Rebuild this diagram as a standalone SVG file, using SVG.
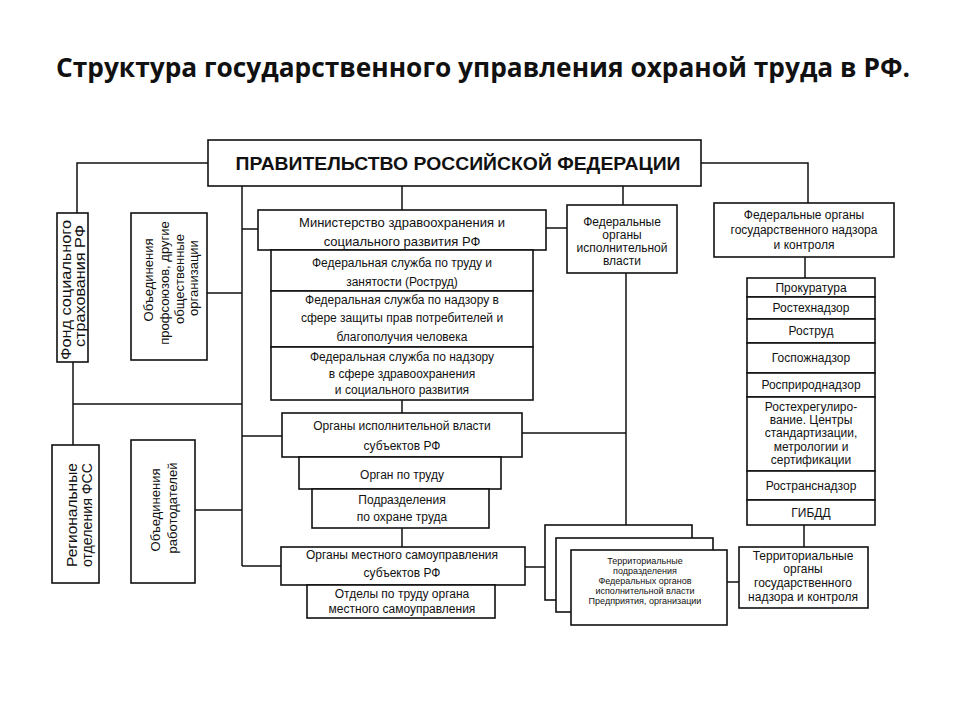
<svg xmlns="http://www.w3.org/2000/svg" width="960" height="720" viewBox="0 0 960 720">
<style>
.box{fill:#fff;stroke:#111;stroke-width:1.6}
.ln{fill:none;stroke:#111;stroke-width:1.5}
text{font-family:"Liberation Sans",Arial,sans-serif;fill:#111;text-anchor:middle;dominant-baseline:central}
.t13{font-size:13px}
.t12{font-size:12px}
.t10{font-size:9px}
.title{font-family:"Open Sans","Liberation Sans",sans-serif;font-weight:700;font-size:27px;dominant-baseline:alphabetic}
.gov{font-weight:700;font-size:18px}
.rot{font-size:14px}
</style>
<rect width="960" height="720" fill="#fff"/>
<text class="title" x="483" y="77" textLength="854" lengthAdjust="spacingAndGlyphs">Структура государственного управления охраной труда в РФ.</text>

<g id="connectors">
<polyline class="ln" points="208,163 77,163 77,213"/>
<line class="ln" x1="73" y1="362" x2="73" y2="445"/>
<line class="ln" x1="73" y1="404" x2="242" y2="404"/>
<line class="ln" x1="242" y1="186" x2="242" y2="566"/>
<line class="ln" x1="242" y1="229" x2="258" y2="229"/>
<line class="ln" x1="207" y1="293" x2="242" y2="293"/>
<line class="ln" x1="195" y1="510" x2="242" y2="510"/>
<line class="ln" x1="242" y1="436" x2="282" y2="436"/>
<line class="ln" x1="242" y1="566" x2="281" y2="566"/>
<line class="ln" x1="402" y1="186" x2="402" y2="210"/>
<line class="ln" x1="402" y1="400" x2="402" y2="413"/>
<line class="ln" x1="402" y1="528" x2="402" y2="547"/>
<line class="ln" x1="623" y1="186" x2="623" y2="205"/>
<line class="ln" x1="546" y1="228" x2="567" y2="228"/>
<line class="ln" x1="626" y1="273" x2="626" y2="525"/>
<line class="ln" x1="522" y1="433" x2="626" y2="433"/>
<line class="ln" x1="525" y1="567" x2="545" y2="567"/>
<line class="ln" x1="727" y1="582" x2="739" y2="582"/>
<line class="ln" x1="804" y1="525" x2="804" y2="547"/>
<polyline class="ln" points="701,163 808,163 808,203"/>
<line class="ln" x1="805" y1="257" x2="805" y2="278"/>
</g>

<g id="gov">
<rect class="box" x="208" y="140" width="493" height="46"/>
<text class="gov" x="458" y="164" textLength="445" lengthAdjust="spacingAndGlyphs">ПРАВИТЕЛЬСТВО РОССИЙСКОЙ ФЕДЕРАЦИИ</text>
</g>

<g id="fss">
<rect class="box" x="57" y="213" width="31" height="149"/>
<text class="rot" transform="translate(66,290) rotate(-90)" textLength="140" lengthAdjust="spacingAndGlyphs">Фонд социального</text>
<text class="rot" transform="translate(80,286) rotate(-90)" textLength="122" lengthAdjust="spacingAndGlyphs">страхования РФ</text>
</g>

<g id="unions">
<rect class="box" x="131" y="213" width="76" height="147"/>
<text class="t13" transform="translate(148,280) rotate(-90)">Объединения</text>
<text class="t13" transform="translate(164,283) rotate(-90)">профсоюзов, другие</text>
<text class="t13" transform="translate(179,279) rotate(-90)">общественные</text>
<text class="t13" transform="translate(193,278) rotate(-90)">организации</text>
</g>

<g id="regfss">
<rect class="box" x="52" y="445" width="47" height="138"/>
<text class="rot" transform="translate(72,515) rotate(-90)" textLength="104" lengthAdjust="spacingAndGlyphs">Региональные</text>
<text class="rot" transform="translate(87,515) rotate(-90)" textLength="104" lengthAdjust="spacingAndGlyphs">отделения ФСС</text>
</g>

<g id="employers">
<rect class="box" x="131" y="440" width="64" height="143"/>
<text class="t13" transform="translate(155,510) rotate(-90)">Объединения</text>
<text class="t13" transform="translate(172,508) rotate(-90)">работодателей</text>
</g>

<g id="ministry">
<rect class="box" x="258" y="210" width="288" height="40"/>
<text class="t13" x="402" y="222">Министерство здравоохранения и</text>
<text class="t13" x="402" y="241">социального развития РФ</text>
</g>
<g id="rostrud">
<rect class="box" x="271" y="250" width="262" height="41"/>
<text class="t12" x="402" y="263">Федеральная служба по труду и</text>
<text class="t12" x="402" y="282">занятости (Роструд)</text>
</g>
<g id="rospotreb">
<rect class="box" x="271" y="291" width="262" height="56"/>
<text class="t12" x="402" y="300">Федеральная служба по надзору в</text>
<text class="t12" x="402" y="318">сфере защиты прав потребителей и</text>
<text class="t12" x="402" y="337">благополучия человека</text>
</g>
<g id="roszdrav">
<rect class="box" x="271" y="347" width="262" height="53"/>
<text class="t12" x="402" y="357">Федеральная служба по надзору</text>
<text class="t12" x="402" y="374">в сфере здравоохранения</text>
<text class="t12" x="402" y="390">и социального развития</text>
</g>

<g id="subjects">
<rect class="box" x="282" y="413" width="240" height="44"/>
<text class="t12" x="402" y="426">Органы исполнительной власти</text>
<text class="t12" x="402" y="446">субъектов РФ</text>
</g>
<g id="labor-organ">
<rect class="box" x="299" y="457" width="202" height="32"/>
<text class="t12" x="402" y="475">Орган по труду</text>
</g>
<g id="ohs-units">
<rect class="box" x="312" y="489" width="177" height="39"/>
<text class="t12" x="402" y="500">Подразделения</text>
<text class="t12" x="402" y="517">по охране труда</text>
</g>
<g id="local">
<rect class="box" x="281" y="547" width="244" height="38"/>
<text class="t12" x="402" y="555">Органы местного самоуправления</text>
<text class="t12" x="402" y="573">субъектов РФ</text>
</g>
<g id="local-labor">
<rect class="box" x="307" y="585" width="188" height="33"/>
<text class="t12" x="402" y="594">Отделы по труду органа</text>
<text class="t12" x="402" y="609">местного самоуправления</text>
</g>

<g id="fed-exec">
<rect class="box" x="567" y="205" width="110" height="68"/>
<text class="t12" x="622" y="222">Федеральные</text>
<text class="t12" x="622" y="235">органы</text>
<text class="t12" x="622" y="248">исполнительной</text>
<text class="t12" x="622" y="261">власти</text>
</g>

<g id="fed-supervision">
<rect class="box" x="714" y="203" width="180" height="54"/>
<text class="t12" x="804" y="215">Федеральные органы</text>
<text class="t12" x="804" y="230">государственного надзора</text>
<text class="t12" x="804" y="245">и контроля</text>
</g>

<g id="agencies">
<rect class="box" x="747" y="278" width="128" height="19"/>
<text class="t12" x="811" y="288">Прокуратура</text>
<rect class="box" x="747" y="297" width="128" height="22"/>
<text class="t12" x="811" y="308">Ростехнадзор</text>
<rect class="box" x="747" y="319" width="128" height="24"/>
<text class="t12" x="811" y="331">Роструд</text>
<rect class="box" x="747" y="343" width="128" height="30"/>
<text class="t12" x="811" y="358">Госпожнадзор</text>
<rect class="box" x="747" y="373" width="128" height="24"/>
<text class="t12" x="811" y="385">Росприроднадзор</text>
<rect class="box" x="747" y="397" width="128" height="74"/>
<text class="t12" x="811" y="407">Ростехрегулиро-</text>
<text class="t12" x="811" y="420">вание. Центры</text>
<text class="t12" x="811" y="433">стандартизации,</text>
<text class="t12" x="811" y="447">метрологии и</text>
<text class="t12" x="811" y="460">сертификации</text>
<rect class="box" x="747" y="471" width="128" height="29"/>
<text class="t12" x="811" y="486">Ространснадзор</text>
<rect class="box" x="747" y="500" width="128" height="25"/>
<text class="t12" x="811" y="513">ГИБДД</text>
</g>

<g id="territorial-units">
<rect class="box" x="545" y="525" width="147" height="75"/>
<rect class="box" x="556" y="538" width="157" height="74"/>
<rect class="box" x="571" y="550" width="156" height="75"/>
<text class="t10" x="645" y="561">Территориальные</text>
<text class="t10" x="645" y="571">подразделения</text>
<text class="t10" x="645" y="581">Федеральных органов</text>
<text class="t10" x="645" y="591">исполнительной власти</text>
<text class="t10" x="645" y="601">Предприятия, организации</text>
</g>

<g id="territorial-supervision">
<rect class="box" x="739" y="547" width="129" height="61"/>
<text class="t12" x="803" y="556">Территориальные</text>
<text class="t12" x="803" y="569">органы</text>
<text class="t12" x="803" y="583">государственного</text>
<text class="t12" x="803" y="597">надзора и контроля</text>
</g>
</svg>
